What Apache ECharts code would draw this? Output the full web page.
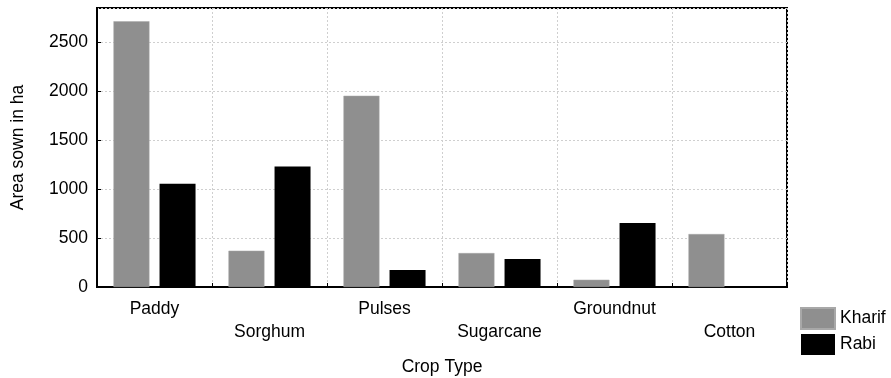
<!DOCTYPE html>
<html>
<head>
<meta charset="utf-8">
<script src="https://cdn.jsdelivr.net/npm/echarts@6/dist/echarts.min.js"></script>
<style>html,body{margin:0;padding:0;background:#fff}#c{width:891px;height:378px}</style>
</head>
<body>
<div id="c"></div>
<script>
const categories = ['Paddy', 'Sorghum', 'Pulses', 'Sugarcane', 'Groundnut', 'Cotton'];
const kharif = [2710, 370, 1950, 346, 74, 540];
const rabi = [1053, 1228, 173, 285, 652, 6];
const seriesNames = ['Kharif', 'Rabi'];
const yTicks = [0, 500, 1000, 1500, 2000, 2500];

const FONT = 'Liberation Sans, Arial, sans-serif';
const FS = 17.5;
const chart = echarts.init(document.getElementById('c'));
chart.setOption({
  animation: false,
  textStyle: { fontFamily: FONT },
  grid: { left: 97, right: 104, top: 8, bottom: 91, show: true, borderColor: '#000', borderWidth: 2,
    backgroundColor: 'transparent', containLabel: false, outerBoundsMode: 'none' },
  legend: {
    orient: 'vertical', left: 800, top: 307, padding: 0, itemWidth: 34, itemHeight: 21, itemGap: 4,
    textStyle: { fontSize: FS, color: '#000', fontFamily: FONT, lineHeight: 21 },
    data: seriesNames, icon: 'rect'
  },
  xAxis: {
    type: 'category', data: categories,
    name: 'Crop Type', nameLocation: 'middle', nameGap: 71,
    nameTextStyle: { fontSize: FS, color: '#000', fontFamily: FONT },
    axisLine: { lineStyle: { color: '#000', width: 2 } },
    axisTick: { show: true, inside: true, length: 4, lineStyle: { color: '#000' } },
    axisLabel: {
      interval: 0, fontSize: FS, color: '#000', margin: 11, lineHeight: 23, fontFamily: FONT,
      formatter: (v, i) => (i % 2 === 1 ? '\n' + v : v)
    },
    splitLine: { show: true, interval: 0, lineStyle: { color: '#cfcfcf', type: [2, 2], width: 1 } }
  },
  yAxis: {
    type: 'value', min: 0, max: 2845, interval: 500,
    name: 'Area sown in ha', nameLocation: 'middle', nameGap: 70,
    nameTextStyle: { fontSize: FS, color: '#000', fontFamily: FONT },
    axisLine: { show: true, lineStyle: { color: '#000', width: 2 } },
    axisTick: { show: true, inside: true, length: 4, lineStyle: { color: '#000' } },
    axisLabel: { fontSize: FS, color: '#000', margin: 9, showMaxLabel: false, fontFamily: FONT,
      formatter: v => (yTicks.includes(v) ? String(v) : '') },
    splitLine: { show: true, lineStyle: { color: '#cfcfcf', type: [2, 2], width: 1 } }
  },
  series: [
    { name: seriesNames[0], type: 'bar', data: kharif, barWidth: 36, barGap: '28%',
      itemStyle: { color: '#8f8f8f', borderColor: '#a8a8a8', borderWidth: 0.5 } },
    { name: seriesNames[1], type: 'bar', data: rabi, barWidth: 36,
      itemStyle: { color: '#000' } }
  ]
});
</script>
</body>
</html>
